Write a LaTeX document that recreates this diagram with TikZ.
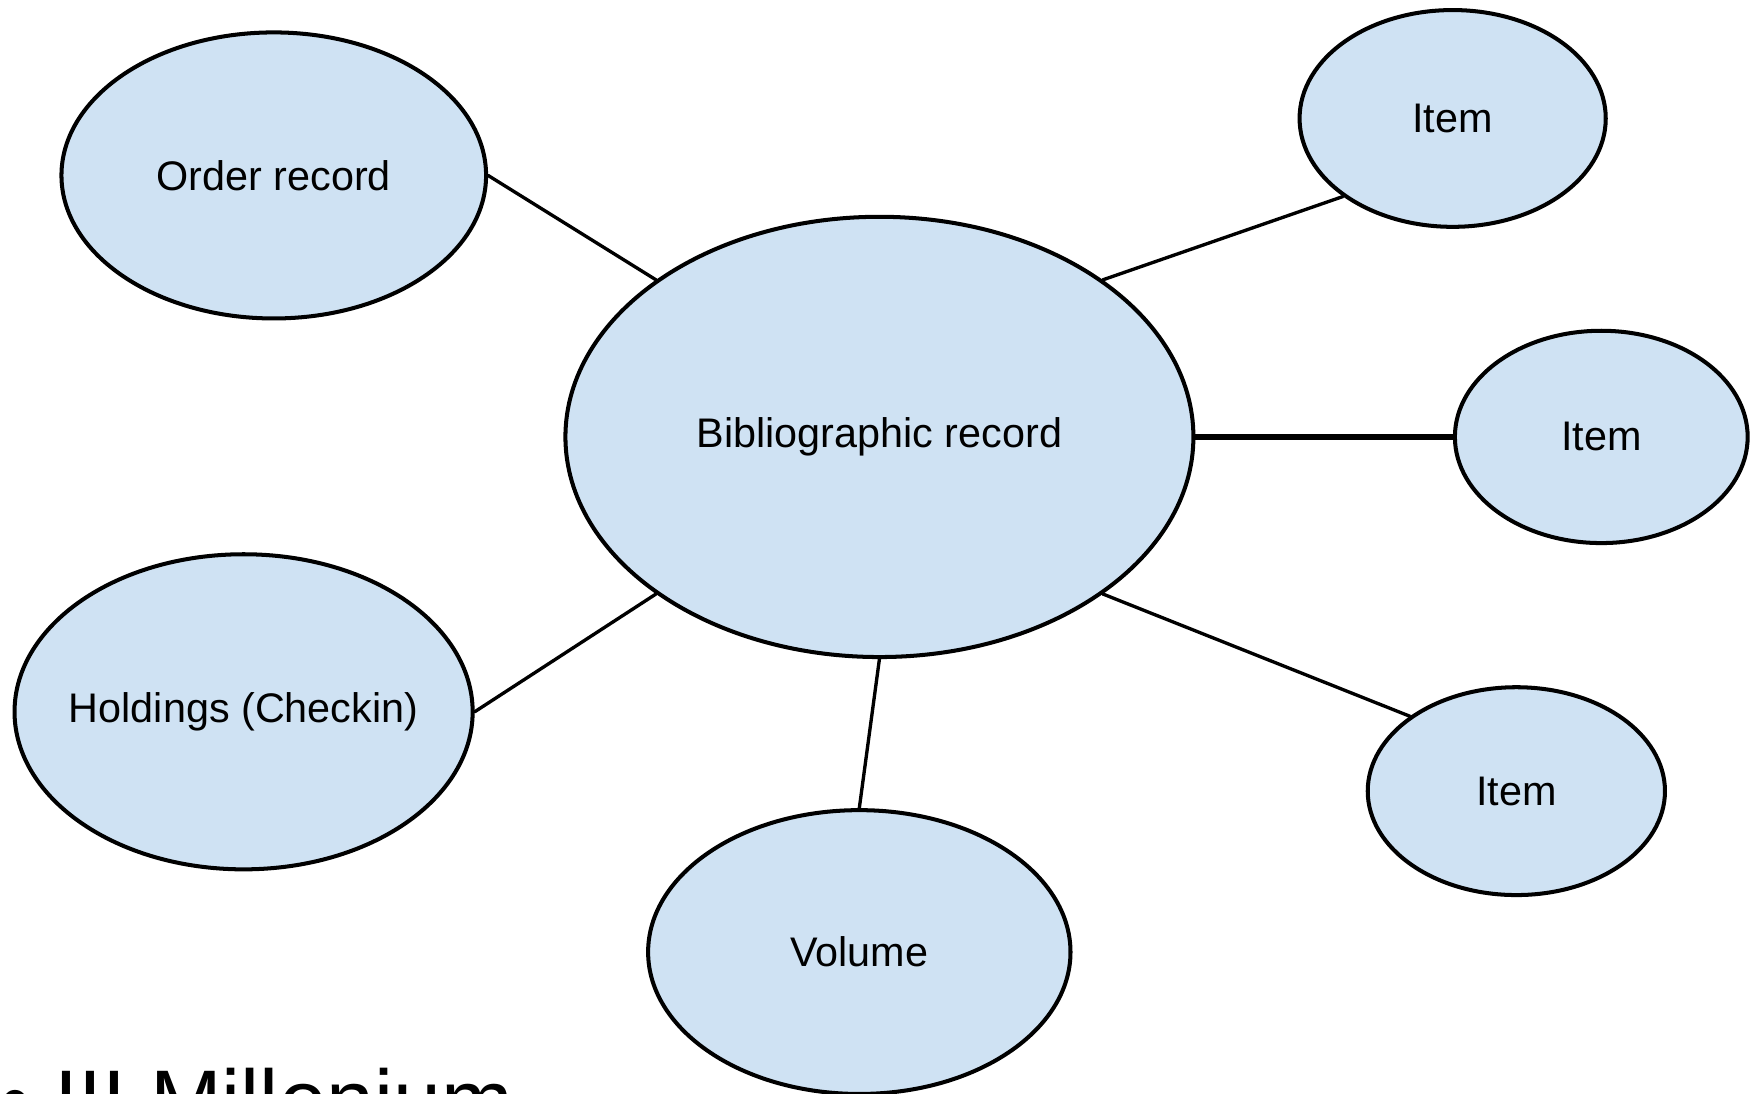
\documentclass[tikz,border=0pt]{standalone}
\usepackage{fontspec}
\setmainfont{Liberation Sans}
\usetikzlibrary{shapes.geometric}
\definecolor{recblue}{HTML}{CFE2F3}
\begin{document}
\begin{tikzpicture}[x=0.5pt, y=-0.5pt, font=\fontsize{18.5}{22}\selectfont, line join=round, line cap=round,
	rec/.style={ellipse, draw, line width=1.8pt, fill=recblue, inner sep=0pt},
	link/.style={line width=1.5pt}]
		\useasboundingbox (0,0) rectangle (1567,979);
		\node[rec, minimum width=281pt, minimum height=197pt] (bib) at (787,391) {Bibliographic record};
		\node[rec, minimum width=190pt, minimum height=128pt] (order) at (245,157) {Order record};
		\node[rec, minimum width=205pt, minimum height=141pt, inner xsep=-10pt] (holdings) at (218,637) {Holdings (Checkin)};
		\node[rec, minimum width=189pt, minimum height=127pt] (volume) at (769,852) {Volume};
		\node[rec, minimum width=137pt, minimum height=97pt] (itemA) at (1300,106) {Item};
		\node[rec, minimum width=131pt, minimum height=95pt] (itemB) at (1433,391) {Item};
		\node[rec, minimum width=133pt, minimum height=93pt] (itemC) at (1357,708) {Item};
		\draw[link] (order.east) -- (bib.north west);
		\draw[link] (bib.north east) -- (itemA.south west);
		\draw[link, line width=2.6pt] (bib.east) -- (itemB.west);
		\draw[link] (bib.south east) -- (itemC.north west);
		\draw[link] (holdings.east) -- (bib.south west);
		\draw[link] (bib.south) -- (volume.north);
		\node[anchor=base west, inner sep=0pt, font=\fontsize{38.5}{46}\selectfont] (era) at (0,1012) {• III Millenium};
	\end{tikzpicture}
\end{document}
